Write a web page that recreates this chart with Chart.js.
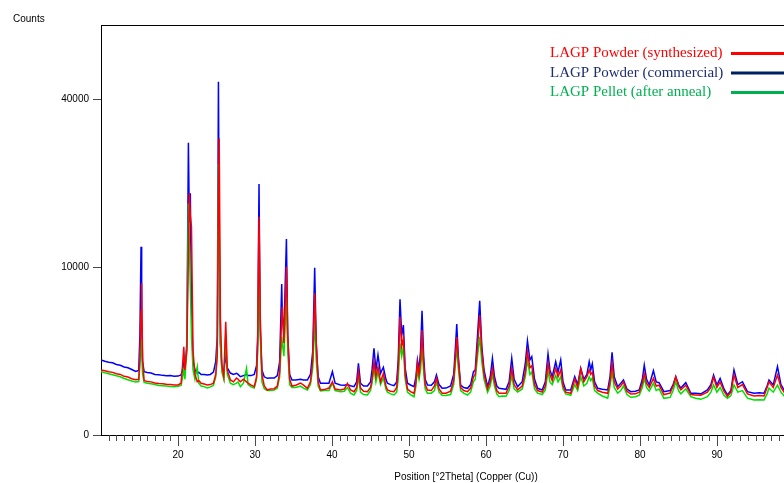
<!DOCTYPE html>
<html>
<head>
<meta charset="utf-8">
<title>LAGP XRD</title>
<script src="https://cdn.jsdelivr.net/npm/chart.js@4.4.0/dist/chart.umd.min.js"></script>
<style>
  html, body { margin: 0; padding: 0; background: #fff; overflow: hidden; }
  #wrap { width: 831px; height: 483px; }
</style>
</head>
<body>
<div id="wrap"><canvas id="xrdChart" width="831" height="483"></canvas></div>
<script>
// ==========================================
// XRD pattern data
// ==========================================

// Position [deg 2Theta]
const twoTheta = [
  10.0, 10.5, 11.0, 11.5, 12.0, 12.5, 13.0, 13.5, 14.0, 14.5,
  14.9, 15.05, 15.2, 15.28, 15.4, 15.6, 16.0, 16.5, 17.0, 17.5,
  18.0, 18.5, 19.0, 19.5, 20.0, 20.4, 20.6, 20.75, 20.9, 21.15,
  21.35, 21.47, 21.6, 21.75, 21.95, 22.2, 22.5, 22.7, 23.0, 23.4,
  23.8, 24.2, 24.6, 24.9, 25.1, 25.25, 25.35, 25.5, 25.7, 25.95,
  26.2, 26.4, 26.8, 27.2, 27.6, 27.8, 28.1, 28.5, 28.9, 29.1,
  29.5, 29.9, 30.2, 30.35, 30.52, 30.68, 30.9, 31.2, 31.6, 32.0,
  32.5, 32.9, 33.2, 33.47, 33.55, 33.75, 34.08, 34.25, 34.5, 34.8,
  35.3, 35.9, 36.3, 36.8, 37.2, 37.5, 37.75, 37.95, 38.2, 38.5,
  39.0, 39.6, 40.05, 40.4, 41.1, 41.6, 42.0, 42.4, 42.86, 43.2,
  43.43, 43.7, 44.1, 44.6, 45.0, 45.2, 45.45, 45.7, 45.97, 46.3,
  46.67, 47.0, 47.2, 47.6, 48.05, 48.4, 48.6, 48.83, 49.05, 49.27,
  49.5, 49.8, 50.2, 50.65, 50.9, 51.09, 51.3, 51.5, 51.69, 51.9,
  52.1, 52.4, 52.9, 53.3, 53.56, 53.9, 54.3, 54.8, 55.4, 55.8,
  56.0, 56.2, 56.4, 56.7, 57.1, 57.6, 58.0, 58.37, 58.6, 58.9,
  59.18, 59.45, 59.74, 60.2, 60.55, 60.83, 61.1, 61.4, 61.7, 62.1,
  62.6, 63.0, 63.34, 63.65, 64.1, 64.7, 65.1, 65.38, 65.7, 65.94,
  66.3, 66.7, 67.3, 67.7, 68.05, 68.3, 68.6, 69.05, 69.35, 69.7,
  70.0, 70.35, 71.0, 71.52, 71.9, 72.3, 72.7, 73.1, 73.4, 73.6,
  73.8, 74.1, 74.5, 75.1, 75.8, 76.1, 76.37, 76.65, 77.1, 77.5,
  77.85, 78.3, 78.8, 79.4, 79.9, 80.3, 80.55, 80.85, 81.2, 81.74,
  82.1, 82.47, 83.1, 83.9, 84.3, 84.64, 85.0, 85.3, 85.94, 86.6,
  87.2, 87.9, 88.75, 89.2, 89.55, 89.98, 90.4, 90.9, 91.35, 91.8,
  92.2, 92.7, 93.3, 93.95, 94.8, 95.5, 96.1, 96.5, 96.75, 97.3,
  97.85, 98.3, 98.8, 99.5, 100.5
];

// Counts, LAGP Powder (synthesized)
const synthesized = [
  1500, 1460, 1420, 1390, 1330, 1300, 1220, 1190, 1120, 1080,
  1100, 2200, 5500, 8150, 2000, 1050, 1010, 1000, 960, 940,
  930, 910, 900, 886, 890, 950, 1800, 2763, 1500, 2500,
  12000, 20700, 17000, 15370, 2500, 1300, 1006, 1050, 950, 920,
  886, 900, 950, 1300, 2200, 20000, 31190, 5000, 1700, 1200,
  4547, 1500, 1072, 1000, 1150, 1100, 1006, 1100, 1000, 950,
  880, 827, 1200, 3000, 16890, 5000, 1300, 850, 717, 750,
  760, 850, 1400, 5000, 5833, 2980, 10040, 3500, 1100, 850,
  880, 958, 880, 772, 1000, 2000, 7111, 3000, 1000, 717,
  730, 780, 1006, 750, 717, 750, 947, 720, 665, 800,
  1420, 780, 680, 665, 800, 1100, 1903, 1200, 1653, 1000,
  1348, 850, 717, 680, 665, 800, 1600, 4957, 2800, 3313,
  1300, 750, 665, 616, 1000, 1821, 1300, 2000, 3906, 1800,
  900, 717, 700, 850, 1138, 750, 616, 620, 680, 1050,
  2000, 3400, 2000, 800, 700, 665, 780, 1200, 1300, 2800,
  5102, 2500, 1300, 750, 1000, 1576, 1000, 700, 616, 620,
  616, 850, 1576, 900, 720, 850, 1400, 2460, 1600, 1700,
  900, 700, 650, 850, 1821, 1300, 1050, 1576, 1200, 1500,
  850, 650, 616, 1100, 800, 1550, 1000, 1200, 1500, 1300,
  1400, 850, 700, 650, 616, 1000, 1821, 1000, 750, 850,
  1000, 680, 596, 600, 650, 950, 1348, 950, 800, 1138,
  850, 880, 580, 620, 850, 1204, 850, 720, 880, 580,
  570, 560, 650, 800, 1180, 800, 1000, 680, 530, 650,
  1275, 800, 900, 600, 540, 550, 540, 800, 1000, 800,
  1275, 800, 620, 640, 650
];

// Counts, LAGP Powder (commercial)
const commercial = [
  2000, 1930, 1880, 1850, 1760, 1720, 1640, 1600, 1520, 1430,
  1480, 3500, 12560, 5000, 1900, 1420, 1380, 1360, 1300, 1290,
  1260, 1240, 1250, 1220, 1230, 1280, 1500, 1836, 1500, 3000,
  30270, 16000, 20700, 6000, 1900, 1500, 1348, 1400, 1300, 1300,
  1275, 1300, 1400, 1900, 3500, 44230, 15000, 3000, 1600, 1500,
  2200, 1600, 1360, 1300, 1350, 1300, 1204, 1250, 1300, 1250,
  1250, 1300, 1700, 3500, 22320, 4000, 1500, 1200, 1138, 1150,
  1150, 1250, 1900, 8080, 5000, 3686, 13610, 3500, 1300, 1072,
  1072, 1100, 1072, 1072, 1300, 2500, 9918, 3000, 1200, 950,
  950, 947, 1420, 950, 886, 880, 900, 860, 827, 1000,
  1821, 950, 850, 850, 1000, 1500, 2662, 1500, 2268, 1348,
  1624, 1100, 947, 900, 860, 1000, 2000, 6524, 3500, 4287,
  1600, 950, 886, 827, 1200, 1993, 1500, 2500, 5476, 2200,
  1100, 886, 880, 1000, 1275, 900, 772, 780, 850, 1300,
  2500, 4366, 2200, 886, 800, 772, 900, 1420, 1500, 3543,
  6390, 2800, 1497, 827, 1200, 2085, 1200, 850, 772, 760,
  740, 1000, 2085, 1100, 827, 1006, 1800, 3150, 1993, 2172,
  1100, 772, 717, 1000, 2325, 1500, 1204, 1903, 1400, 1993,
  1000, 717, 717, 1204, 900, 1576, 1100, 1300, 1903, 1500,
  1800, 1000, 772, 740, 717, 1200, 2423, 1200, 827, 947,
  1072, 750, 665, 680, 720, 1100, 1736, 1100, 886, 1464,
  1000, 970, 665, 700, 900, 1204, 900, 780, 970, 616,
  620, 600, 717, 900, 1275, 886, 1138, 750, 567, 700,
  1497, 900, 1006, 665, 616, 630, 616, 850, 1072, 886,
  1653, 900, 680, 700, 720
];

// Counts, LAGP Pellet (after anneal)
const pellet = [
  1420, 1370, 1330, 1290, 1240, 1200, 1130, 1080, 1030, 1000,
  1010, 1700, 3200, 2600, 1300, 980, 950, 930, 900, 870,
  860, 850, 830, 827, 840, 870, 1200, 1500, 1100, 2800,
  19000, 13000, 7790, 3500, 1500, 1100, 1653, 950, 850, 830,
  783, 820, 870, 1200, 2500, 26000, 18000, 3000, 1400, 1100,
  3665, 1300, 950, 900, 950, 1000, 827, 950, 1576, 900,
  820, 780, 1100, 2500, 13000, 3500, 1000, 760, 700, 700,
  720, 780, 1200, 3420, 3000, 2200, 6775, 2500, 900, 800,
  800, 850, 780, 720, 900, 1600, 4686, 2000, 850, 690,
  700, 700, 950, 700, 665, 680, 800, 620, 567, 700,
  1204, 650, 580, 567, 700, 950, 1576, 1000, 1400, 900,
  1150, 750, 650, 600, 567, 650, 1100, 2980, 2200, 2763,
  1100, 650, 580, 520, 850, 1500, 1100, 1500, 2763, 1400,
  750, 620, 620, 700, 1000, 650, 560, 550, 580, 900,
  1700, 2763, 1600, 700, 620, 567, 650, 1000, 1100, 2200,
  3423, 1900, 1100, 650, 850, 1300, 850, 600, 520, 540,
  530, 700, 1250, 750, 650, 750, 1200, 1993, 1300, 1400,
  750, 620, 580, 720, 1450, 1000, 900, 1250, 1000, 1200,
  750, 600, 560, 900, 700, 1200, 850, 950, 1200, 1050,
  1150, 700, 620, 540, 477, 850, 1400, 800, 620, 700,
  850, 580, 504, 520, 560, 800, 1138, 800, 680, 950,
  700, 750, 477, 500, 700, 1006, 700, 600, 750, 520,
  480, 451, 520, 650, 886, 650, 800, 560, 480, 550,
  886, 650, 700, 480, 434, 440, 434, 600, 780, 650,
  886, 650, 520, 530, 540
];

const yTickCounts = [0, 10000, 40000];
const xMajorTicks = [20, 30, 40, 50, 60, 70, 80, 90, 100];
const seriesLabels = ['LAGP Powder (synthesized)', 'LAGP Powder (commercial)', 'LAGP Pellet (after anneal)'];

// the instrument software plots counts on a square-root axis
const toPoints = (counts) => twoTheta.map((t, i) => ({ x: t, y: Math.sqrt(counts[i]) }));

const colors = {
    red: '#ff0000',
    blue: '#0000ff',
    green: '#00e000',
    legendRed: '#ff0000',
    legendNavy: '#1f2f6e',
    legendNavyLine: '#002060',
    legendGreen: '#00b050',
    tick: '#4a4a4a'
};

const sansFont = '"Liberation Sans", Arial, sans-serif';

// axis frame, minor ticks, "Counts" label and the legend block
const xrdDecor = {
    id: 'xrdDecor',
    afterDraw(chart) {
        const { ctx, chartArea: area, scales: { x } } = chart;
        ctx.save();

        ctx.strokeStyle = '#000';
        ctx.lineWidth = 1;
        ctx.beginPath();
        ctx.moveTo(area.left, area.top + 0.5);
        ctx.lineTo(area.right, area.top + 0.5);
        ctx.stroke();

        // minor ticks every degree
        ctx.strokeStyle = colors.tick;
        for (let v = Math.ceil(x.min) + 1; v < x.max; v++) {
            if (v % 10 === 0) continue;
            const px = Math.round(x.getPixelForValue(v)) + 0.5;
            ctx.beginPath();
            ctx.moveTo(px, area.bottom);
            ctx.lineTo(px, area.bottom + 6);
            ctx.stroke();
        }

        ctx.fillStyle = '#000';
        ctx.font = '10px ' + sansFont;
        ctx.textAlign = 'left';
        ctx.textBaseline = 'middle';
        ctx.fillText('Counts', 13, 19);

        // legend
        const rows = [
            { text: seriesLabels[0], color: colors.legendRed, line: colors.red, y: 53.5 },
            { text: seriesLabels[1], color: colors.legendNavy, line: colors.legendNavyLine, y: 73 },
            { text: seriesLabels[2], color: colors.legendGreen, line: colors.legendGreen, y: 92.5 }
        ];
        ctx.font = '15px "Liberation Serif", "Times New Roman", serif';
        rows.forEach(r => {
            ctx.fillStyle = r.color;
            ctx.fillText(r.text, 550, r.y);
            ctx.strokeStyle = r.line;
            ctx.lineWidth = 3;
            ctx.beginPath();
            ctx.moveTo(731, r.y);
            ctx.lineTo(800, r.y);
            ctx.stroke();
        });

        ctx.restore();
    }
};

const lineStyle = { borderWidth: 1.5, pointRadius: 0, tension: 0, fill: false };

new Chart(document.getElementById('xrdChart'), {
    type: 'line',
    data: {
        datasets: [
            { label: seriesLabels[0], data: toPoints(synthesized), borderColor: colors.red, ...lineStyle },
            { label: seriesLabels[2], data: toPoints(pellet), borderColor: colors.green, ...lineStyle },
            { label: seriesLabels[1], data: toPoints(commercial), borderColor: colors.blue, ...lineStyle }
        ]
    },
    options: {
        responsive: false,
        animation: false,
        devicePixelRatio: 1,
        layout: { padding: { top: 25, left: 0, right: 0, bottom: 0 } },
        plugins: {
            legend: { display: false },
            tooltip: { enabled: false }
        },
        scales: {
            x: {
                type: 'linear',
                min: 10,
                max: 104.8,
                afterBuildTicks: (scale) => { scale.ticks = xMajorTicks.map(v => ({ value: v })); },
                afterFit: (scale) => { scale.height = 48; },
                grid: { drawOnChartArea: false, tickLength: 11, tickColor: colors.tick },
                border: { color: '#000', width: 1 },
                ticks: {
                    autoSkip: false,
                    maxRotation: 0,
                    padding: 3,
                    color: '#000',
                    font: { size: 10, family: sansFont }
                },
                title: {
                    display: true,
                    text: 'Position [°2Theta] (Copper (Cu))',
                    color: '#000',
                    font: { size: 10, family: sansFont },
                    padding: 0
                }
            },
            y: {
                type: 'linear',
                min: 0,
                max: 244.05,
                afterBuildTicks: (scale) => { scale.ticks = yTickCounts.map(v => ({ value: Math.sqrt(v) })); },
                afterFit: (scale) => { scale.width = 101; },
                grid: { drawOnChartArea: false, tickLength: 8, tickColor: colors.tick },
                border: { color: '#000', width: 1 },
                ticks: {
                    padding: 4,
                    color: '#000',
                    font: { size: 10, family: sansFont },
                    callback: (value, index) => String(yTickCounts[index])
                }
            }
        }
    },
    plugins: [xrdDecor]
});
</script>
</body>
</html>
